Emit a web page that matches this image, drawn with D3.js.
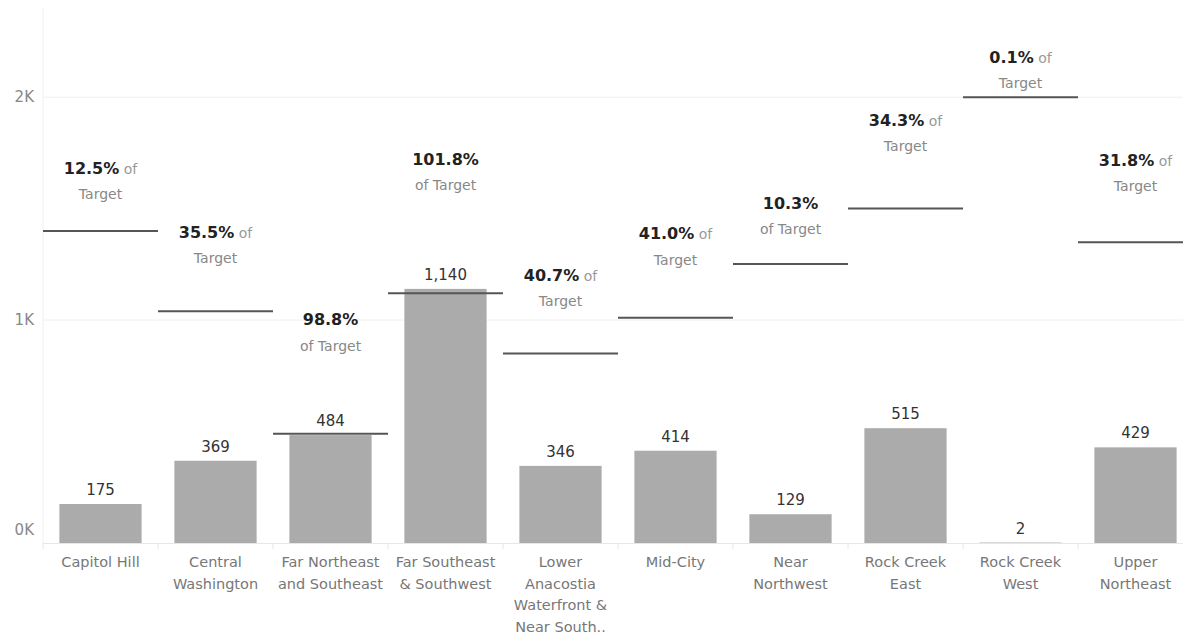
<!DOCTYPE html>
<html>
<head>
<meta charset="utf-8">
<script src="https://cdn.jsdelivr.net/npm/d3@7"></script>
<style>
  body { margin: 0; background: #fff; }
  svg text { font-family: "DejaVu Sans", sans-serif; }
</style>
</head>
<body>
<svg id="chart"></svg>
<script>
// data
const categories = [
    ["Capitol Hill"],
    ["Central", "Washington"],
    ["Far Northeast", "and Southeast"],
    ["Far Southeast", "& Southwest"],
    ["Lower", "Anacostia", "Waterfront &", "Near South.."],
    ["Mid-City"],
    ["Near", "Northwest"],
    ["Rock Creek", "East"],
    ["Rock Creek", "West"],
    ["Upper", "Northeast"]
];
const values = [175, 369, 484, 1140, 346, 414, 129, 515, 2, 429];
const targets = [1400, 1040, 490, 1120, 850, 1010, 1252, 1501, 2000, 1349];
const pctLabels = ["12.5%", "35.5%", "98.8%", "101.8%", "40.7%", "41.0%", "10.3%", "34.3%", "0.1%", "31.8%"];
const yTicks = [0, 1000, 2000];

// label layout (how Tableau placed the target text)
const labelLift = [37, 53, 88, 108, 52, 58, 35, 62, 14, 56];
const ofOnSecondLine = [false, false, true, true, false, false, true, false, false, false];

const width = 1183, height = 639;
const x0 = 43, x1 = 1193, yBase = 543, yTop = 8;

const svg = d3.select("#chart")
    .attr("width", width)
    .attr("height", height);

const idx = d3.range(categories.length);
const x = d3.scaleBand()
    .domain(idx)
    .range([x0, x1])
    .paddingInner(0.285)
    .paddingOuter(0.1425);
const step = x.step();
const y = d3.scaleLinear()
    .domain([0, 2400])
    .range([yBase, yTop]);

// gridlines
svg.append("g")
    .selectAll("line")
    .data(yTicks.filter(d => d > 0))
    .join("line")
    .attr("x1", x0).attr("x2", width)
    .attr("y1", d => y(d)).attr("y2", d => y(d))
    .attr("stroke", "#efefef")
    .attr("stroke-width", 1);

// left axis line
svg.append("line")
    .attr("x1", x0).attr("x2", x0)
    .attr("y1", yTop).attr("y2", yBase)
    .attr("stroke", "#f0f0f0");

// y tick labels
svg.append("g")
    .selectAll("text")
    .data(yTicks)
    .join("text")
    .attr("x", 34)
    .attr("y", d => d === 0 ? y(d) - 13 : y(d))
    .attr("dy", "0.35em")
    .attr("text-anchor", "end")
    .attr("fill", "#888")
    .attr("font-size", 15)
    .text(d => d3.format("d")(d / 1000) + "K");

// bars
svg.append("g")
    .selectAll("rect")
    .data(idx)
    .join("rect")
    .attr("x", i => x(i))
    .attr("width", x.bandwidth())
    .attr("y", i => y(values[i]))
    .attr("height", i => yBase - y(values[i]))
    .attr("fill", "#ababab");

// baseline and band dividers
svg.append("line")
    .attr("x1", x0).attr("x2", width)
    .attr("y1", yBase + 0.5).attr("y2", yBase + 0.5)
    .attr("stroke", "#e6e6e6");
svg.append("g")
    .selectAll("line")
    .data(d3.range(categories.length + 1))
    .join("line")
    .attr("x1", i => x0 + i * step).attr("x2", i => x0 + i * step)
    .attr("y1", yBase).attr("y2", yBase + 6)
    .attr("stroke", "#e6e6e6");

// value labels
svg.append("g")
    .selectAll("text")
    .data(idx)
    .join("text")
    .attr("x", i => x(i) + x.bandwidth() / 2)
    .attr("y", i => y(values[i]) - 9)
    .attr("text-anchor", "middle")
    .attr("fill", "#333")
    .attr("font-size", 15)
    .text(i => d3.format(",")(values[i]));

// target lines
svg.append("g")
    .selectAll("line")
    .data(idx)
    .join("line")
    .attr("x1", i => x0 + i * step)
    .attr("x2", i => x0 + (i + 1) * step)
    .attr("y1", i => y(targets[i]))
    .attr("y2", i => y(targets[i]))
    .attr("stroke", "#555")
    .attr("stroke-width", 2);

// target annotations
const ann = svg.append("g")
    .selectAll("g")
    .data(idx)
    .join("g")
    .attr("transform", i => `translate(${x(i) + x.bandwidth() / 2},${y(targets[i]) - labelLift[i]})`);

const first = ann.append("text")
    .attr("y", -26)
    .attr("dy", "0.35em")
    .attr("text-anchor", "middle");
first.append("tspan")
    .attr("font-size", 16)
    .attr("font-weight", "bold")
    .attr("fill", "#222")
    .text(i => pctLabels[i]);
first.filter(i => !ofOnSecondLine[i])
    .append("tspan")
    .attr("font-size", 14)
    .attr("fill", "#999")
    .text(" of");

ann.append("text")
    .attr("dy", "0.35em")
    .attr("text-anchor", "middle")
    .attr("font-size", 14)
    .attr("fill", "#888")
    .text(i => ofOnSecondLine[i] ? "of Target" : "Target");

// category labels
svg.append("g")
    .selectAll("text")
    .data(idx)
    .join("text")
    .attr("x", i => x(i) + x.bandwidth() / 2)
    .attr("y", 562)
    .attr("text-anchor", "middle")
    .attr("fill", "#777")
    .attr("font-size", 14.5)
    .selectAll("tspan")
    .data(i => categories[i].map(t => [i, t]))
    .join("tspan")
    .attr("x", d => x(d[0]) + x.bandwidth() / 2)
    .attr("dy", (d, k) => k === 0 ? "0.35em" : 21.5)
    .text(d => d[1]);
</script>
</body>
</html>
